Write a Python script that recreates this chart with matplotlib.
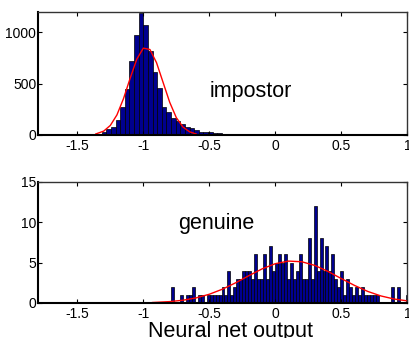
"""Impostor / genuine score histograms with fitted normal curves."""

import matplotlib

matplotlib.use("Agg")
import matplotlib.pyplot as plt
import numpy as np

# impostor histogram: first bin edge, bin width, counts
imp_start = -1.385
imp_width = 0.035
imp_counts = [3, 10, 30, 55, 75, 144, 275, 444, 716, 974,
              1183, 1075, 820, 613, 460, 268, 225, 170, 140, 105,
              80, 65, 48, 32, 26, 30, 20, 15, 7, 5,
              4, 3, 3, 2, 2, 1]
# fitted curve
imp_fit_x = [-1.36, -1.30, -1.25, -1.20, -1.15, -1.10, -1.05, -1.00,
             -0.95, -0.90, -0.85, -0.80, -0.75, -0.70, -0.65, -0.60]
imp_fit_y = [10, 38, 93, 195, 354, 551, 736, 845,
             832, 704, 511, 318, 169, 78, 31, 10]

# genuine histogram
gen_start = -0.79
gen_width = 0.0225
gen_counts = [2, 0, 0, 1, 0, 1, 1, 2, 0, 1,
              1, 0, 1, 1, 1, 1, 1, 2, 1, 4,
              1, 2, 3, 3, 4, 4, 4, 3, 6, 3,
              3, 6, 3, 7, 4, 5, 6, 5, 6, 3,
              5, 3, 4, 6, 3, 3, 8, 3, 12, 4,
              8, 4, 7, 4, 6, 3, 2, 4, 1, 3,
              2, 1, 2, 1, 2, 1, 1, 1, 1, 1,
              0, 0, 0, 0, 2, 0, 2, 0, 0, 1]
gen_fit_x = [-0.93, -0.8, -0.7, -0.6, -0.5, -0.4, -0.3, -0.2, -0.1, 0.0,
             0.1, 0.2, 0.3, 0.4, 0.5, 0.6, 0.7, 0.8, 0.9, 1.0]
gen_fit_y = [0.06, 0.17, 0.34, 0.63, 1.08, 1.71, 2.50, 3.38, 4.22, 4.86,
             5.18, 5.10, 4.64, 3.89, 3.02, 2.17, 1.43, 0.87, 0.49, 0.26]

xticks = [-1.5, -1, -0.5, 0, 0.5, 1]
xticklabels = ["-1.5", "-1", "-0.5", "0", "0.5", "1"]

plt.rcParams["font.family"] = ["Liberation Sans", "DejaVu Sans"]
BAR_COLOR = "#00008F"


def style_axes(ax, yticks):
    ax.set_xlim(-1.8, 1.0)
    ax.set_xticks(xticks)
    ax.set_xticklabels(xticklabels)
    ax.set_yticks(yticks)
    ax.set_yticklabels([str(t) for t in yticks])
    ax.tick_params(direction="in", top=True, right=True, length=3, width=0.8,
                   labelsize=10)
    ax.tick_params(axis="x", pad=3)
    ax.tick_params(axis="y", pad=1)
    for side in ("left", "bottom"):
        ax.spines[side].set_linewidth(1.5)
        ax.spines[side].set_color("black")
    for side in ("top", "right"):
        ax.spines[side].set_linewidth(1.0)
        ax.spines[side].set_color("0.2")


def draw_hist(ax, start, width, counts):
    centers = start + width * (np.arange(len(counts)) + 0.5)
    ax.bar(centers, counts, width=width, color=BAR_COLOR, edgecolor="black",
           linewidth=0.5)


fig = plt.figure(figsize=(4.09, 3.38), dpi=100)
ax_imp = fig.add_axes([0.0922, 0.6006, 0.9037, 0.3649])
ax_gen = fig.add_axes([0.0922, 0.1036, 0.9037, 0.3589])

draw_hist(ax_imp, imp_start, imp_width, imp_counts)
ax_imp.plot(imp_fit_x, imp_fit_y, color="red", lw=1.0)
ax_imp.set_ylim(0, 1200)
style_axes(ax_imp, [0, 500, 1000])
ax_imp.text(-0.5, 420, "impostor", fontsize=15.5, va="center", ha="left")

draw_hist(ax_gen, gen_start, gen_width, gen_counts)
ax_gen.plot(gen_fit_x, gen_fit_y, color="red", lw=1.0)
ax_gen.set_ylim(0, 15)
style_axes(ax_gen, [0, 5, 10, 15])
ax_gen.text(-0.74, 9.8, "genuine", fontsize=15.5, va="center", ha="left")

fig.text(0.564, 0.002, "Neural net output", fontsize=15.5, ha="center",
         va="baseline")

fig.savefig("out.png", dpi=100)
plt.close(fig)
